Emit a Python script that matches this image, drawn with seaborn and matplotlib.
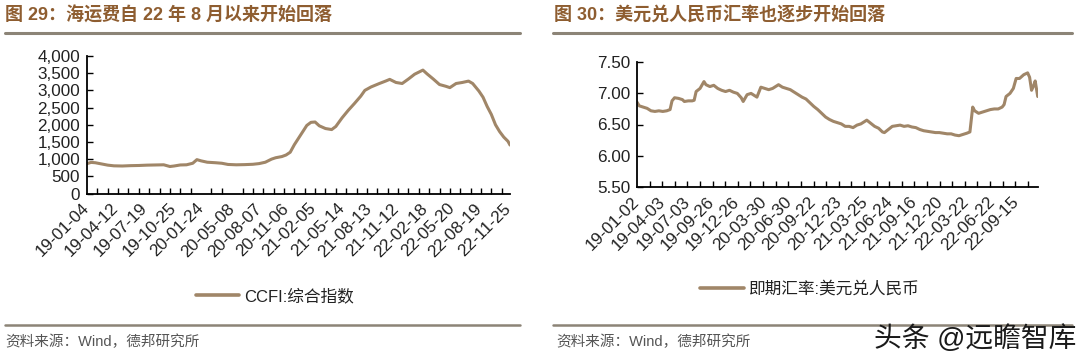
import matplotlib
matplotlib.use("Agg")
import matplotlib.pyplot as plt
import matplotlib.dates as mdates
import matplotlib.ticker as mticker
from matplotlib.lines import Line2D
import seaborn as sns
import pandas as pd

# ---------------- data ----------------
ccfi_dates = ["2019-01-04", "2019-01-18", "2019-02-01", "2019-02-22", "2019-03-15", "2019-04-05",
              "2019-05-03", "2019-05-31", "2019-06-28", "2019-07-26", "2019-08-23", "2019-09-20",
              "2019-10-11", "2019-10-25", "2019-11-15", "2019-12-06", "2019-12-27", "2020-01-10",
              "2020-01-24", "2020-02-14", "2020-03-13", "2020-04-03", "2020-04-24", "2020-05-22",
              "2020-06-19", "2020-07-17", "2020-08-07", "2020-08-28", "2020-09-18", "2020-10-02",
              "2020-10-23", "2020-11-06", "2020-11-20", "2020-12-04", "2020-12-25", "2021-01-15",
              "2021-01-29", "2021-02-12", "2021-02-26", "2021-03-19", "2021-04-09", "2021-04-23",
              "2021-05-14", "2021-06-04", "2021-06-25", "2021-07-16", "2021-07-30", "2021-08-20",
              "2021-09-17", "2021-10-08", "2021-10-22", "2021-11-12", "2021-12-03", "2021-12-24",
              "2022-01-14", "2022-02-11", "2022-02-25", "2022-03-18", "2022-04-08", "2022-04-29",
              "2022-05-13", "2022-06-03", "2022-06-24", "2022-07-15", "2022-07-29", "2022-08-19",
              "2022-09-02", "2022-09-16", "2022-09-30", "2022-10-14", "2022-10-28", "2022-11-11",
              "2022-11-25", "2022-12-02"]
ccfi_values = [870, 905, 895, 860, 825, 805,
               800, 810, 815, 825, 830, 835,
               785, 800, 830, 835, 880, 985,
               950, 910, 895, 880, 845, 835,
               840, 850, 870, 910, 1000, 1040,
               1075, 1120, 1200, 1420, 1700, 1980,
               2070, 2080, 1970, 1890, 1860, 1950,
               2200, 2420, 2620, 2830, 3000, 3100,
               3200, 3270, 3320, 3230, 3200, 3330,
               3470, 3590, 3480, 3330, 3170, 3120,
               3080, 3200, 3230, 3270, 3200, 2980,
               2800, 2530, 2300, 2000, 1800, 1640,
               1520, 1410]

fx_dates = ["2019-01-02", "2019-01-10", "2019-01-24", "2019-02-07", "2019-02-21", "2019-03-07",
            "2019-03-21", "2019-04-04", "2019-04-18", "2019-04-30", "2019-05-07", "2019-05-16",
            "2019-05-30", "2019-06-13", "2019-06-20", "2019-07-04", "2019-07-18", "2019-07-25",
            "2019-08-01", "2019-08-15", "2019-08-29", "2019-09-05", "2019-09-19", "2019-10-03",
            "2019-10-17", "2019-10-31", "2019-11-14", "2019-11-28", "2019-12-12", "2019-12-26",
            "2020-01-09", "2020-01-16", "2020-01-30", "2020-02-13", "2020-02-27", "2020-03-05",
            "2020-03-19", "2020-04-02", "2020-04-16", "2020-04-30", "2020-05-14", "2020-05-21",
            "2020-06-04", "2020-06-18", "2020-07-02", "2020-07-16", "2020-07-30", "2020-08-13",
            "2020-08-27", "2020-09-10", "2020-09-24", "2020-10-08", "2020-10-22", "2020-11-05",
            "2020-11-19", "2020-12-03", "2020-12-17", "2020-12-31", "2021-01-14", "2021-01-28",
            "2021-02-11", "2021-02-25", "2021-03-11", "2021-03-25", "2021-04-01", "2021-04-15",
            "2021-04-29", "2021-05-13", "2021-05-27", "2021-06-03", "2021-06-17", "2021-07-01",
            "2021-07-15", "2021-07-29", "2021-08-12", "2021-08-26", "2021-09-09", "2021-09-23",
            "2021-10-07", "2021-10-21", "2021-11-04", "2021-11-18", "2021-12-02", "2021-12-16",
            "2021-12-30", "2022-01-13", "2022-01-27", "2022-02-10", "2022-02-24", "2022-03-10",
            "2022-03-24", "2022-04-04", "2022-04-14", "2022-04-21", "2022-05-05", "2022-05-19",
            "2022-06-02", "2022-06-16", "2022-06-30", "2022-07-14", "2022-07-28", "2022-08-04",
            "2022-08-11", "2022-08-25", "2022-09-06", "2022-09-16", "2022-09-28", "2022-10-13",
            "2022-10-27", "2022-11-03", "2022-11-10", "2022-11-17", "2022-11-23", "2022-12-02"]
fx_values = [6.86, 6.80, 6.78, 6.76, 6.72, 6.71,
             6.72, 6.71, 6.72, 6.74, 6.88, 6.93,
             6.92, 6.90, 6.87, 6.88, 6.88, 6.89,
             7.03, 7.08, 7.19, 7.14, 7.11, 7.13,
             7.08, 7.05, 7.03, 7.05, 7.02, 7.00,
             6.93, 6.87, 6.98, 7.00, 6.96, 6.94,
             7.10, 7.08, 7.06, 7.08, 7.12, 7.14,
             7.10, 7.08, 7.06, 7.02, 6.98, 6.94,
             6.91, 6.85, 6.79, 6.74, 6.68, 6.62,
             6.58, 6.55, 6.53, 6.51, 6.47, 6.47,
             6.45, 6.49, 6.51, 6.55, 6.57, 6.52,
             6.47, 6.44, 6.38, 6.37, 6.42, 6.47,
             6.48, 6.49, 6.47, 6.48, 6.46, 6.45,
             6.42, 6.40, 6.39, 6.38, 6.37, 6.37,
             6.36, 6.35, 6.35, 6.33, 6.32, 6.34,
             6.36, 6.38, 6.78, 6.72, 6.68, 6.70,
             6.72, 6.74, 6.75, 6.75, 6.78, 6.82,
             6.95, 7.00, 7.08, 7.24, 7.24, 7.30,
             7.33, 7.26, 7.05, 7.12, 7.20, 6.95]

left_labels = ["19-01-04", "19-04-12", "19-07-19", "19-10-25", "20-01-24", "20-05-08", "20-08-07",
               "20-11-06", "21-02-05", "21-05-14", "21-08-13", "21-11-12", "22-02-18", "22-05-20",
               "22-08-19", "22-11-25"]
right_labels = ["19-01-02", "19-04-03", "19-07-03", "19-09-26", "19-12-26", "20-03-30", "20-06-30",
                "20-09-22", "20-12-23", "21-03-25", "21-06-24", "21-09-16", "21-12-20", "22-03-22",
                "22-06-22", "22-09-15"]
left_yticks = [0, 500, 1000, 1500, 2000, 2500, 3000, 3500, 4000]
right_yticks = [5.5, 6.0, 6.5, 7.0, 7.5]

left_title = "图 29：海运费自 22 年 8 月以来开始回落"
right_title = "图 30：美元兑人民币汇率也逐步开始回落"
left_series = "CCFI:综合指数"
right_series = "即期汇率:美元兑人民币"
source_text = "资料来源：Wind，德邦研究所"
watermark = "头条 @远瞻智库"

# ---------------- style ----------------
sns.set_theme(style="white")
plt.rcParams["font.family"] = ["Liberation Sans", "Noto Sans CJK SC", "DejaVu Sans"]
LINE_C = "#A08668"
TITLE_C = "#8E5D30"
RULE_C = "#8C8477"
TEXT_C = "#222222"
TICK_FS = 12.3

df1 = pd.DataFrame({"date": pd.to_datetime(ccfi_dates), "value": ccfi_values, "series": left_series})
df2 = pd.DataFrame({"date": pd.to_datetime(fx_dates), "value": fx_values, "series": right_series})

fig = plt.figure(figsize=(10.8, 3.58), dpi=100)
W, H = 1080, 358


def fx(px):
    return px / W


def fy(py):
    return 1 - py / H


ax1 = fig.add_axes([fx(87), fy(193.5), fx(510) - fx(87), fy(56) - fy(193.5)])
ax2 = fig.add_axes([fx(637), fy(186.7), fx(1038) - fx(637), fy(62.3) - fy(186.7)])

sns.lineplot(data=df1, x="date", y="value", ax=ax1, color=LINE_C, lw=2.2, legend=False)
sns.lineplot(data=df2, x="date", y="value", ax=ax2, color=LINE_C, lw=2.2, legend=False)


def style_axis(ax, labels, yticks, yfmt, start, end, minor_days):
    ax.set_xlim(pd.Timestamp(start), pd.Timestamp(end))
    ax.set_ylim(yticks[0], yticks[-1])
    ax.set_xlabel("")
    ax.set_ylabel("")
    label_dates = [pd.Timestamp("20" + s) for s in labels]
    ax.set_xticks([mdates.date2num(d) for d in label_dates])
    ax.set_xticklabels(labels, rotation=45, ha="right", va="center", rotation_mode="anchor",
                       fontsize=TICK_FS, color=TEXT_C)
    minor = pd.date_range(pd.Timestamp(start) + pd.Timedelta(days=minor_days), pd.Timestamp(end),
                          freq=f"{minor_days}D")
    ax.xaxis.set_minor_locator(mticker.FixedLocator([mdates.date2num(d) for d in minor]))
    ax.tick_params(axis="x", which="major", length=0, pad=9)
    ax.tick_params(axis="x", which="minor", direction="in", length=4, width=1, color="black",
                   bottom=True)
    ax.set_yticks(yticks)
    ax.yaxis.set_major_formatter(mticker.StrMethodFormatter(yfmt))
    ax.tick_params(axis="y", direction="in", length=4, width=1, color="black", labelsize=TICK_FS,
                   labelcolor=TEXT_C, pad=5, left=True)
    for s in ["top", "right"]:
        ax.spines[s].set_visible(False)
    for s in ["left", "bottom"]:
        ax.spines[s].set_color("black")
        ax.spines[s].set_linewidth(1.3)
    ax.set_facecolor("white")
    ax.grid(False)


style_axis(ax1, left_labels, left_yticks, "{x:,.0f}", "2019-01-04", "2022-12-02", 35)
style_axis(ax2, right_labels, right_yticks, "{x:.2f}", "2019-01-02", "2022-12-03", 45)

# legends
h = Line2D([], [], color=LINE_C, lw=2.6)
fig.legend([h], [left_series], loc="center", bbox_to_anchor=(fx(275), fy(296)), frameon=False,
           fontsize=12, handlelength=2.6, handletextpad=0.3, labelcolor=TEXT_C)
fig.legend([h], [right_series], loc="center", bbox_to_anchor=(fx(810), fy(289)), frameon=False,
           fontsize=12, handlelength=2.6, handletextpad=0.3, labelcolor=TEXT_C)

# titles and rules
fig.text(fx(5), fy(15), left_title, fontsize=13, fontweight="bold", color=TITLE_C, va="center", ha="left")
fig.text(fx(554), fy(15), right_title, fontsize=13, fontweight="bold", color=TITLE_C, va="center", ha="left")
for x0, x1 in [(5, 520), (553, 1072)]:
    fig.add_artist(Line2D([fx(x0), fx(x1)], [fy(32.5), fy(32.5)], color=RULE_C, lw=2.2))
    fig.add_artist(Line2D([fx(x0), fx(x1)], [fy(325), fy(325)], color=RULE_C, lw=1.8))

fig.text(fx(5), fy(342), source_text, fontsize=10.5, color="#555555", va="center", ha="left")
fig.text(fx(556), fy(342), source_text, fontsize=10.5, color="#555555", va="center", ha="left")
fig.text(fx(1076), fy(339), watermark, fontsize=20, color="#1a1a1a", va="center", ha="right")

fig.savefig("out.png", dpi=100, facecolor="white")
